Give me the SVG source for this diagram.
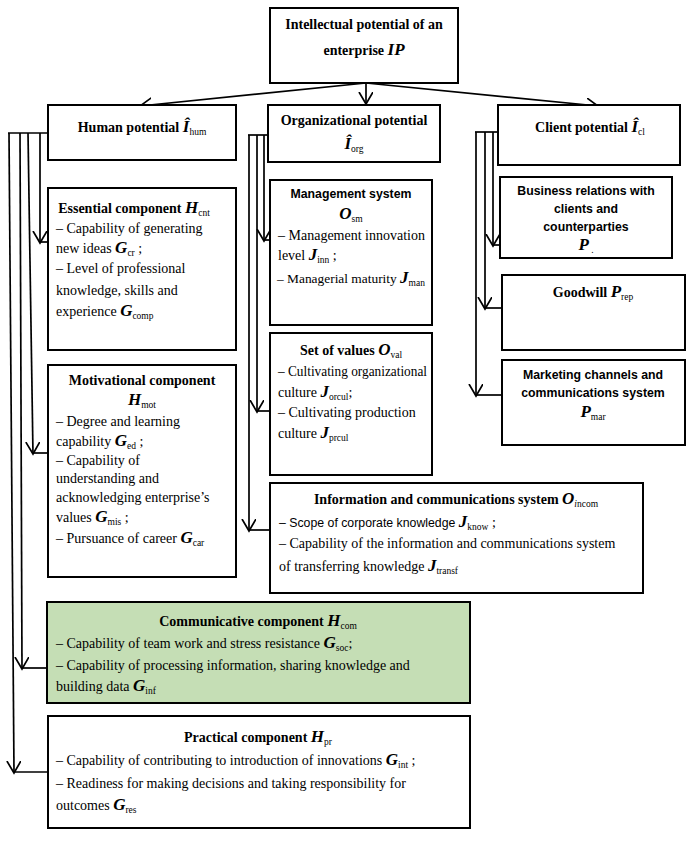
<svg xmlns="http://www.w3.org/2000/svg" width="693" height="841" viewBox="0 0 693 841" font-family="'Liberation Serif', 'Times New Roman', serif">
<defs>
<marker id="ah" markerUnits="userSpaceOnUse" markerWidth="16" markerHeight="16" refX="12" refY="7" orient="auto">
<path d="M0,0 L12,7 L0,14" fill="none" stroke="#000" stroke-width="1.7"/>
</marker>
</defs>
<style>
.box{fill:#fff;stroke:#000;stroke-width:2}
.green{fill:#c5deb5}
text{font-family:'Liberation Serif','Times New Roman',serif;font-size:14px;fill:#000}
.b{font-weight:bold}
.sans{font-family:'Liberation Sans',Arial,sans-serif;font-size:12.3px}
.c{text-anchor:middle}
.m{font-weight:bold;font-style:italic;font-size:17px}
.s{font-size:9.5px;font-weight:normal;font-style:normal;font-family:'Liberation Serif','Times New Roman',serif}
.con line{stroke:#000;stroke-width:1.7;fill:none}
.con .a{marker-end:url(#ah)}
</style>

<g id="connectors" class="con">
<line class="a" x1="366" y1="83" x2="140" y2="106"/>
<line class="a" x1="366" y1="83" x2="366" y2="104"/>
<line class="a" x1="366" y1="83" x2="598" y2="106"/>
<line x1="8" y1="133" x2="48" y2="133"/>
<line class="a" x1="40" y1="133" x2="40" y2="243"/>
<line x1="40" y1="242" x2="48" y2="242"/>
<line class="a" x1="28" y1="133" x2="33" y2="454"/>
<line x1="33" y1="453" x2="48" y2="453"/>
<line class="a" x1="20" y1="133" x2="22" y2="669"/>
<line x1="22" y1="668" x2="47" y2="668"/>
<line class="a" x1="9" y1="133" x2="14" y2="773"/>
<line x1="14" y1="772" x2="48" y2="772"/>
<line x1="248" y1="135" x2="268" y2="135"/>
<line class="a" x1="264" y1="135" x2="264" y2="241"/>
<line x1="264" y1="240" x2="270" y2="240"/>
<line class="a" x1="257" y1="135" x2="257" y2="412"/>
<line x1="257" y1="411" x2="270" y2="411"/>
<line class="a" x1="249" y1="135" x2="249" y2="531"/>
<line x1="249" y1="530" x2="270" y2="530"/>
<line x1="475" y1="132" x2="498" y2="132"/>
<line class="a" x1="493" y1="132" x2="493" y2="246"/>
<line x1="493" y1="245" x2="500" y2="245"/>
<line class="a" x1="485" y1="132" x2="485" y2="309"/>
<line x1="485" y1="308" x2="502" y2="308"/>
<line class="a" x1="476" y1="132" x2="476" y2="396"/>
<line x1="476" y1="395" x2="502" y2="395"/>
</g>

<g id="ip">
<rect class="box" x="270" y="8" width="188" height="75"/>
<text x="364" y="29" class="c b">Intellectual potential of an</text>
<text x="364" y="55" class="c b">enterprise <tspan class="m">IP</tspan></text>
</g>

<g id="human">
<rect class="box" x="48" y="105" width="188" height="55"/>
<text x="142" y="132" class="c b">Human potential <tspan class="m">Î</tspan><tspan class="s" dy="3">hum</tspan></text>
</g>

<g id="org">
<rect class="box" x="268" y="105" width="172" height="57"/>
<text x="354" y="125" class="c b">Organizational potential</text>
<text x="354" y="149" class="c b"><tspan class="m">Î</tspan><tspan class="s" dy="3">org</tspan></text>
</g>

<g id="client">
<rect class="box" x="498" y="105" width="182" height="60"/>
<text x="590" y="132" class="c b">Client potential <tspan class="m">Î</tspan><tspan class="s" dy="3">cl</tspan></text>
</g>

<g id="essential">
<rect class="box" x="48" y="188" width="188" height="162"/>
<text x="134" y="213" class="c b">Essential component <tspan class="m">H</tspan><tspan class="s" dy="3">cnt</tspan></text>
<text x="56" y="233">– Capability of generating</text>
<text x="56" y="253">new ideas <tspan class="m">G</tspan><tspan class="s" dy="3">cr</tspan><tspan dy="-3"> ;</tspan></text>
<text x="56" y="273">– Level of professional</text>
<text x="56" y="295">knowledge, skills and</text>
<text x="56" y="316">experience <tspan class="m">G</tspan><tspan class="s" dy="3">comp</tspan></text>
</g>

<g id="motivational">
<rect class="box" x="48" y="365" width="188" height="212"/>
<text x="142" y="385" class="c b">Motivational component</text>
<text x="142" y="405" class="c b"><tspan class="m">H</tspan><tspan class="s" dy="3">mot</tspan></text>
<text x="56" y="426">– Degree and learning</text>
<text x="56" y="446">capability <tspan class="m">G</tspan><tspan class="s" dy="3">ed</tspan><tspan dy="-3"> ;</tspan></text>
<text x="56" y="465">– Capability of</text>
<text x="56" y="483">understanding and</text>
<text x="56" y="502">acknowledging enterprise’s</text>
<text x="56" y="522">values <tspan class="m">G</tspan><tspan class="s" dy="3">mis</tspan><tspan dy="-3"> ;</tspan></text>
<text x="56" y="543">– Pursuance of career <tspan class="m">G</tspan><tspan class="s" dy="3">car</tspan></text>
</g>

<g id="management">
<rect class="box" x="270" y="180" width="162" height="145"/>
<text x="351" y="198" class="c b sans">Management system</text>
<text x="351" y="219" class="c b"><tspan class="m">O</tspan><tspan class="s" dy="3">sm</tspan></text>
<text x="278" y="240">– Management innovation</text>
<text x="278" y="260">level <tspan class="m">J</tspan><tspan class="s" dy="3">inn</tspan><tspan dy="-3"> ;</tspan></text>
<text x="277" y="283" style="font-size:13.4px">– Managerial maturity <tspan class="m">J</tspan><tspan class="s" dy="3">man</tspan></text>
</g>

<g id="values">
<rect class="box" x="270" y="333" width="162" height="142"/>
<text x="351" y="355" class="c b">Set of values <tspan class="m">O</tspan><tspan class="s" dy="3">val</tspan></text>
<text x="278" y="376" textLength="149" lengthAdjust="spacingAndGlyphs">– Cultivating organizational</text>
<text x="278" y="397">culture <tspan class="m">J</tspan><tspan class="s" dy="3">orcul</tspan><tspan dy="-3">;</tspan></text>
<text x="278" y="417">– Cultivating production</text>
<text x="278" y="438">culture <tspan class="m">J</tspan><tspan class="s" dy="3">prcul</tspan></text>
</g>

<g id="ics">
<rect class="box" x="270" y="483" width="373" height="110"/>
<text x="456" y="504" class="c b">Information and communications system <tspan class="m">O</tspan><tspan class="s" dy="3"><tspan font-style="italic">i</tspan>ncom</tspan></text>
<text x="279" y="527"><tspan class="sans" font-size="12.8px">– Scope of corporate knowledge </tspan><tspan class="m">J</tspan><tspan class="s" dy="3">know</tspan><tspan dy="-3"> ;</tspan></text>
<text x="279" y="548">– Capability of the information and communications system</text>
<text x="279" y="571">of transferring knowledge <tspan class="m">J</tspan><tspan class="s" dy="3">transf</tspan></text>
</g>

<g id="business">
<rect class="box" x="500" y="177" width="172" height="81"/>
<text x="586" y="195" class="c b sans">Business relations with</text>
<text x="586" y="213" class="c b sans">clients and</text>
<text x="586" y="231" class="c b sans">counterparties</text>
<text x="586" y="250" class="c b"><tspan class="m">P</tspan><tspan class="s" dy="3"> .</tspan></text>
</g>

<g id="goodwill">
<rect class="box" x="502" y="275" width="183" height="75"/>
<text x="593" y="297" class="c b">Goodwill <tspan class="m">P</tspan><tspan class="s" dy="3">rep</tspan></text>
</g>

<g id="marketing">
<rect class="box" x="502" y="360" width="183" height="85"/>
<text x="593" y="379" class="c b sans">Marketing channels and</text>
<text x="593" y="397" class="c b sans">communications system</text>
<text x="593" y="417" class="c b"><tspan class="m">P</tspan><tspan class="s" dy="3">mar</tspan></text>
</g>

<g id="communicative">
<rect class="box green" x="47" y="602" width="423" height="101"/>
<text x="258" y="626" class="c b">Communicative component <tspan class="m">H</tspan><tspan class="s" dy="3">com</tspan></text>
<text x="56" y="648">– Capability of team work and stress resistance <tspan class="m">G</tspan><tspan class="s" dy="3">soc</tspan><tspan dy="-3">;</tspan></text>
<text x="56" y="670">– Capability of processing information, sharing knowledge and</text>
<text x="56" y="691">building data <tspan class="m">G</tspan><tspan class="s" dy="3">inf</tspan></text>
</g>

<g id="practical">
<rect class="box" x="48" y="716" width="422" height="112"/>
<text x="258" y="742" class="c b">Practical component <tspan class="m">H</tspan><tspan class="s" dy="3">pr</tspan></text>
<text x="56" y="765">– Capability of contributing to introduction of innovations <tspan class="m">G</tspan><tspan class="s" dy="3">int</tspan><tspan dy="-3"> ;</tspan></text>
<text x="56" y="788">– Readiness for making decisions and taking responsibility for</text>
<text x="56" y="810">outcomes <tspan class="m">G</tspan><tspan class="s" dy="3">res</tspan></text>
</g>
</svg>
